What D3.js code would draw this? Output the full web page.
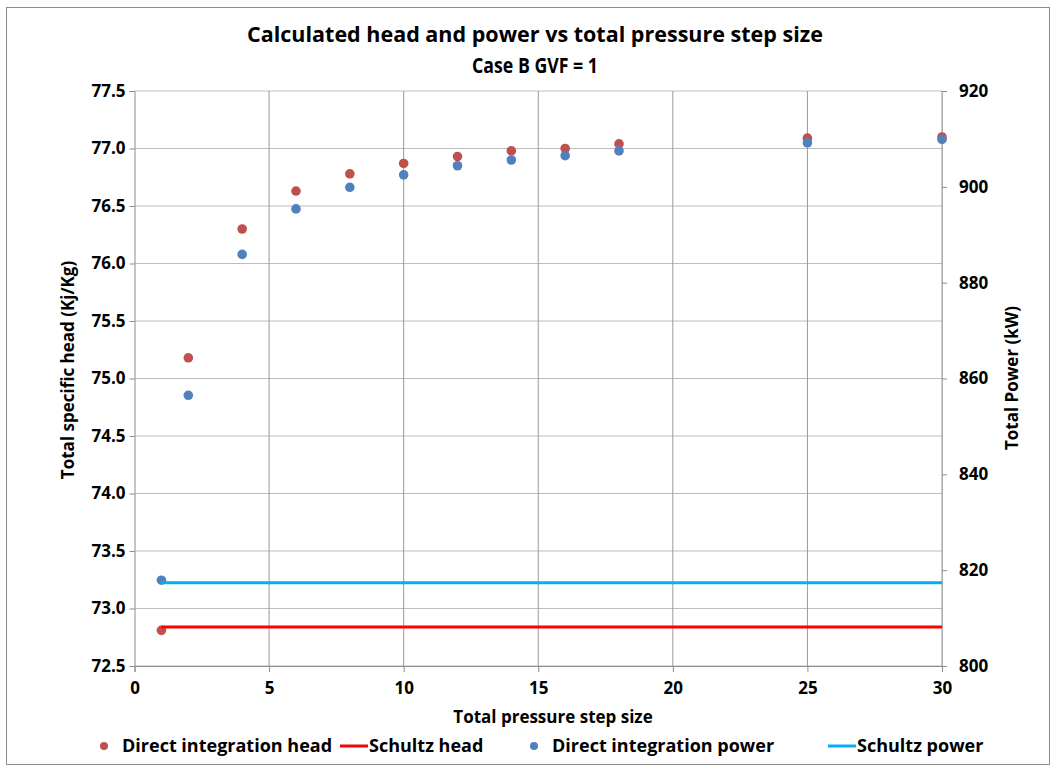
<!DOCTYPE html>
<html>
<head>
<meta charset="utf-8">
<script src="https://cdn.jsdelivr.net/npm/d3@7"></script>
<style>
  body { margin: 0; background: #fff; }
  svg text { font-family: "Open Sans", "DejaVu Sans", sans-serif; font-weight: 700; fill: #000; }
</style>
</head>
<body>
<div id="chart"></div>
<script>
// step sizes and values
const stepSizes   = [1, 2, 4, 6, 8, 10, 12, 14, 16, 18, 25, 30];
const directHead  = [72.81, 75.18, 76.30, 76.63, 76.78, 76.87, 76.93, 76.98, 77.00, 77.04, 77.09, 77.10];
const directPower = [817.9, 856.5, 885.9, 895.4, 899.9, 902.5, 904.4, 905.6, 906.5, 907.5, 909.2, 909.9];
const schultzX     = [1, 30];
const schultzHead  = [72.84, 72.84];
const schultzPower = [817.4, 817.4];

const headTicks  = [72.5, 73.0, 73.5, 74.0, 74.5, 75.0, 75.5, 76.0, 76.5, 77.0, 77.5];
const powerTicks = [800, 820, 840, 860, 880, 900, 920];
const stepTicks  = [0, 5, 10, 15, 20, 25, 30];

const W = 1058, H = 771;
const M = { top: 91, right: 116, bottom: 105, left: 134.5 };
const iw = W - M.left - M.right, ih = H - M.top - M.bottom;

const RED = '#C0504D', BLUE = '#4F81BD', LINE_RED = '#FF0000', LINE_BLUE = '#00B0F0';

const svg = d3.select('#chart').append('svg')
  .attr('width', W).attr('height', H);

svg.append('rect').attr('width', W).attr('height', H).attr('fill', '#fff');
svg.append('rect')
  .attr('x', 6.5).attr('y', 7.5).attr('width', 1043).attr('height', 757)
  .attr('fill', 'none').attr('stroke', '#8c8c8c');

const g = svg.append('g').attr('transform', `translate(${M.left},${M.top})`);

const x  = d3.scaleLinear().domain([0, 30]).range([0, iw]);
const yL = d3.scaleLinear().domain([72.5, 77.5]).range([ih, 0]);
const yR = d3.scaleLinear().domain([800, 920]).range([ih, 0]);

// gridlines
g.append('g').selectAll('line').data(headTicks).join('line')
  .attr('x1', 0).attr('x2', iw)
  .attr('y1', d => yL(d)).attr('y2', d => yL(d))
  .attr('stroke', '#bdbdbd').attr('stroke-width', 1);
g.append('g').selectAll('line').data(stepTicks.slice(1)).join('line')
  .attr('x1', d => x(d)).attr('x2', d => x(d))
  .attr('y1', 0).attr('y2', ih)
  .attr('stroke', '#9a9a9a').attr('stroke-width', 1);

// axes
const leftAxis = g.append('g')
  .call(d3.axisLeft(yL).tickValues(headTicks).tickFormat(d3.format('.1f')).tickSize(5).tickPadding(4));
const rightAxis = g.append('g').attr('transform', `translate(${iw},0)`)
  .call(d3.axisRight(yR).tickValues(powerTicks).tickSize(5).tickPadding(12));
const bottomAxis = g.append('g').attr('transform', `translate(0,${ih})`)
  .call(d3.axisBottom(x).tickValues(stepTicks).tickSize(6).tickPadding(10));

[leftAxis, rightAxis, bottomAxis].forEach(a => {
  a.select('.domain').attr('stroke', '#8c8c8c');
  a.selectAll('.tick line').attr('stroke', '#8c8c8c');
  a.selectAll('text').style('font-size', '17px').attr('fill', '#000');
});
rightAxis.select('.domain').attr('stroke', '#b0b0b0');

// series: direct head, schultz head, direct power, schultz power
const pts = stepSizes.map((s, i) => ({ s, h: directHead[i], p: directPower[i] }));

g.append('g').selectAll('circle').data(pts).join('circle')
  .attr('cx', d => x(d.s)).attr('cy', d => yL(d.h)).attr('r', 4.8)
  .attr('fill', RED);

g.append('path')
  .datum(schultzX.map((s, i) => [s, schultzHead[i]]))
  .attr('d', d3.line().x(d => x(d[0])).y(d => yL(d[1])))
  .attr('fill', 'none').attr('stroke', LINE_RED).attr('stroke-width', 3);

g.append('g').selectAll('circle').data(pts).join('circle')
  .attr('cx', d => x(d.s)).attr('cy', d => yR(d.p)).attr('r', 4.8)
  .attr('fill', BLUE);

g.append('path')
  .datum(schultzX.map((s, i) => [s, schultzPower[i]]))
  .attr('d', d3.line().x(d => x(d[0])).y(d => yR(d[1])))
  .attr('fill', 'none').attr('stroke', LINE_BLUE).attr('stroke-width', 3);

// titles
svg.append('text').attr('x', 535).attr('y', 42).attr('text-anchor', 'middle')
  .style('font-size', '21px').attr('textLength', 576).attr('lengthAdjust', 'spacingAndGlyphs')
  .text('Calculated head and power vs total pressure step size');
svg.append('text').attr('x', 535).attr('y', 73).attr('text-anchor', 'middle')
  .style('font-size', '21px').attr('textLength', 126).attr('lengthAdjust', 'spacingAndGlyphs')
  .text('Case B GVF = 1');

svg.append('text').attr('x', 553).attr('y', 723).attr('text-anchor', 'middle')
  .style('font-size', '17px')
  .text('Total pressure step size');

svg.append('text').attr('transform', 'translate(74,370) rotate(-90)').attr('text-anchor', 'middle')
  .style('font-size', '17px')
  .text('Total specific head (Kj/Kg)');
svg.append('text').attr('transform', 'translate(1018,378) rotate(-90)').attr('text-anchor', 'middle')
  .style('font-size', '17px')
  .text('Total Power (kW)');

// legend
const legend = [
  { label: 'Direct integration head',  color: RED,       type: 'dot',  x: 104 },
  { label: 'Schultz head',             color: LINE_RED,  type: 'line', x: 340 },
  { label: 'Direct integration power', color: BLUE,      type: 'dot',  x: 534 },
  { label: 'Schultz power',            color: LINE_BLUE, type: 'line', x: 828 }
];
const ly = 746;
legend.forEach(d => {
  if (d.type === 'dot') {
    svg.append('circle').attr('cx', d.x).attr('cy', ly).attr('r', 4).attr('fill', d.color);
    svg.append('text').attr('x', d.x + 18).attr('y', ly).attr('dy', '0.35em')
      .style('font-size', '18px').text(d.label);
  } else {
    svg.append('line').attr('x1', d.x).attr('x2', d.x + 28).attr('y1', ly).attr('y2', ly)
      .attr('stroke', d.color).attr('stroke-width', 3);
    svg.append('text').attr('x', d.x + 29).attr('y', ly).attr('dy', '0.35em')
      .style('font-size', '18px').text(d.label);
  }
});
</script>
</body>
</html>
